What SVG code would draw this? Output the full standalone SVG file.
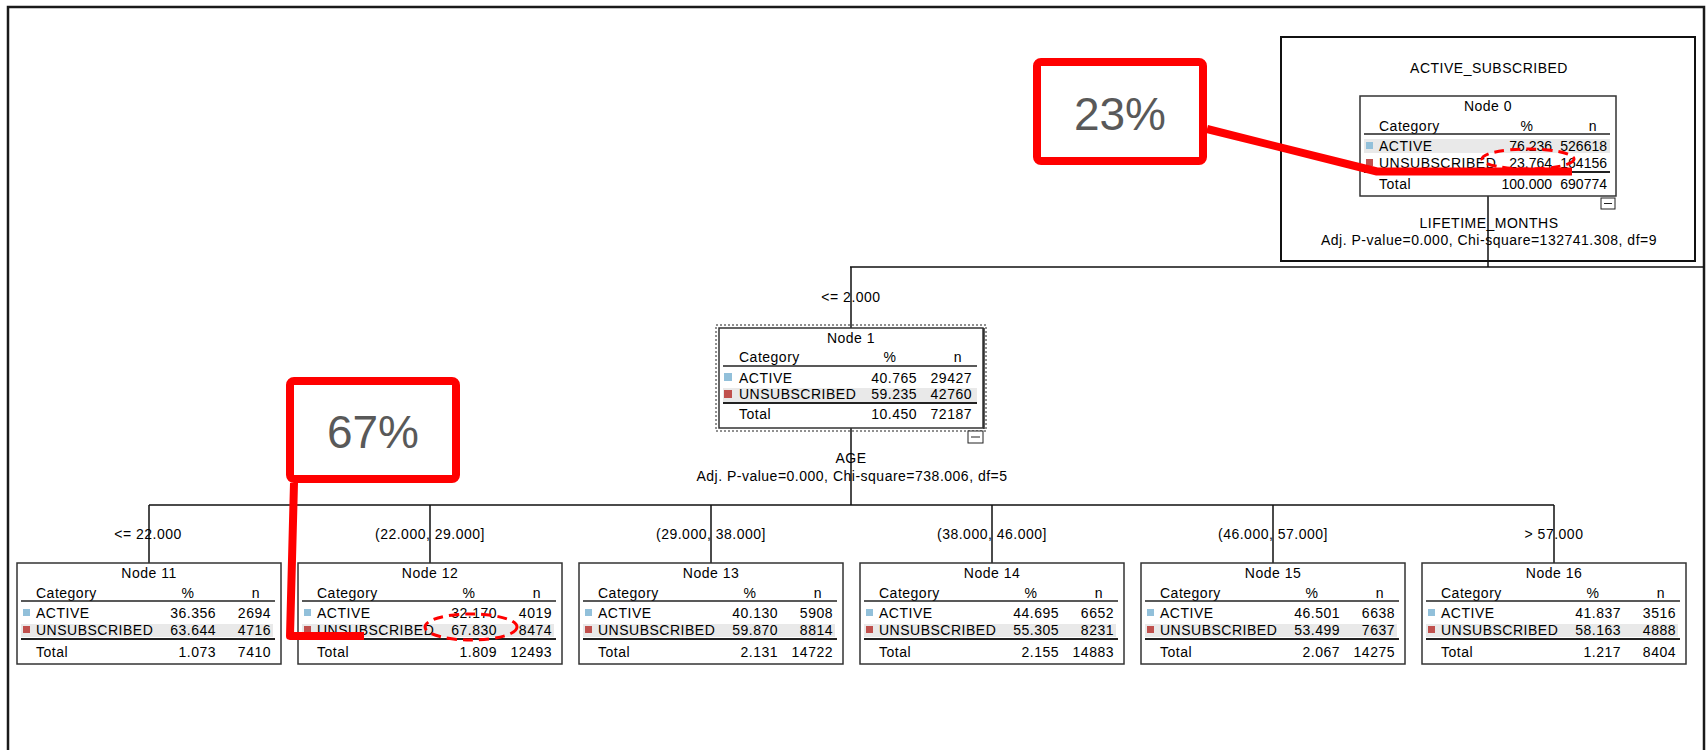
<svg xmlns="http://www.w3.org/2000/svg" width="1708" height="750" viewBox="0 0 1708 750">
<style>
text{font-family:"Liberation Sans",Arial,sans-serif;font-size:14px;fill:#000;letter-spacing:0.5px}
.m{text-anchor:middle}
.e{text-anchor:end}
.num{letter-spacing:0}
.box{fill:#fff;stroke:#333;stroke-width:1.5}
.rule{stroke:#222;stroke-width:1.5}
.rule2{stroke:#222;stroke-width:2.2}
.hl{fill:#e9e9e9}
.sa{fill:#92c0da}
.su{fill:#c0504d}
.conn{fill:none;stroke:#111;stroke-width:1.5}
.red{fill:none;stroke:#ff0000;stroke-width:8;stroke-linejoin:round}
.redd{fill:none;stroke:#ff0000;stroke-width:3;stroke-dasharray:10 6}
.call{font-size:46px;fill:#595959;letter-spacing:0}
</style>
<rect width="1708" height="750" fill="#fff"/>
<path d="M8 750 V7 H1704 V750" fill="none" stroke="#1a1a1a" stroke-width="2.5"/>
<rect x="1281" y="37" width="414" height="224" fill="none" stroke="#111" stroke-width="2"/>
<text class="m" x="1489" y="73">ACTIVE_SUBSCRIBED</text>

<g id="connectors">
<path class="conn" d="M1488 196 V267 M850 267 H1704 M851 267 V328 M851 428 V505 M149 505 H1554 M149 505 V563 M430 505 V563 M711 505 V563 M992 505 V563 M1273 505 V563 M1554 505 V563"/>
<text class="m" x="1489" y="228">LIFETIME_MONTHS</text>
<text class="m" x="1489" y="245">Adj. P-value=0.000, Chi-square=132741.308, df=9</text>
<text class="m" x="851" y="302">&lt;= 2.000</text>
<text class="m" x="851" y="463">AGE</text>
<text class="m" x="852" y="481">Adj. P-value=0.000, Chi-square=738.006, df=5</text>
<text class="m" x="148" y="539">&lt;= 22.000</text>
<text class="m" x="430" y="539">(22.000, 29.000]</text>
<text class="m" x="711" y="539">(29.000, 38.000]</text>
<text class="m" x="992" y="539">(38.000, 46.000]</text>
<text class="m" x="1273" y="539">(46.000, 57.000]</text>
<text class="m" x="1554" y="539">&gt; 57.000</text>
</g>

<g id="node0" transform="translate(1360,96)">
<rect class="box" width="256" height="100"/>
<rect class="hl" x="4" y="43" width="246" height="14"/>
<text class="m" x="128" y="15">Node 0</text>
<text x="19" y="35">Category</text>
<text class="m" x="167" y="35">%</text>
<text class="m" x="233" y="35">n</text>
<line class="rule" x1="4" y1="38" x2="250" y2="38"/>
<rect class="sa" x="6" y="46" width="7" height="7"/>
<text x="19" y="55">ACTIVE</text>
<text class="e num" x="192" y="55">76.236</text>
<text class="e num" x="247" y="55">526618</text>
<rect class="su" x="6" y="63" width="7" height="7"/>
<text x="19" y="72">UNSUBSCRIBED</text>
<text class="e num" x="192" y="72">23.764</text>
<text class="e num" x="247" y="72">164156</text>
<line class="rule2" x1="4" y1="76" x2="250" y2="76"/>
<text x="19" y="93">Total</text>
<text class="e num" x="192" y="93">100.000</text>
<text class="e num" x="247" y="93">690774</text>
<rect x="241" y="102" width="14" height="11" fill="#fff" stroke="#222" stroke-width="1"/>
<line x1="244" y1="107.5" x2="252" y2="107.5" stroke="#222" stroke-width="1"/>
</g>

<g id="node1" transform="translate(719,328)">
<rect x="-3" y="-3" width="270" height="106" fill="none" stroke="#222" stroke-width="1" stroke-dasharray="2 2"/>
<rect class="box" width="264" height="100"/>
<line x1="265" y1="0" x2="265" y2="101" stroke="#222" stroke-width="1.5"/>
<rect class="hl" x="4" y="60" width="254" height="14"/>
<text class="m" x="132" y="15">Node 1</text>
<text x="20" y="34">Category</text>
<text class="m" x="171" y="34">%</text>
<text class="m" x="239" y="34">n</text>
<line class="rule" x1="4" y1="38" x2="258" y2="38"/>
<rect class="sa" x="5" y="45" width="8" height="8"/>
<text x="20" y="55">ACTIVE</text>
<text class="e" x="198" y="55">40.765</text>
<text class="e" x="253" y="55">29427</text>
<rect class="su" x="5" y="62" width="8" height="8"/>
<text x="20" y="71">UNSUBSCRIBED</text>
<text class="e" x="198" y="71">59.235</text>
<text class="e" x="253" y="71">42760</text>
<line class="rule2" x1="4" y1="75" x2="258" y2="75"/>
<text x="20" y="91">Total</text>
<text class="e" x="198" y="91">10.450</text>
<text class="e" x="253" y="91">72187</text>
<rect x="249" y="103" width="15" height="12" fill="#fff" stroke="#222" stroke-width="1"/>
<line x1="252" y1="109" x2="261" y2="109" stroke="#222" stroke-width="1"/>
</g>

<g id="node11" transform="translate(17,563)">
<rect class="box" width="264" height="101"/>
<rect class="hl" x="4" y="61" width="252" height="13"/>
<text class="m" x="132" y="15">Node 11</text>
<text x="19" y="35">Category</text>
<text class="m" x="171" y="35">%</text>
<text class="m" x="239" y="35">n</text>
<line class="rule" x1="4" y1="38" x2="258" y2="38"/>
<rect class="sa" x="6" y="46" width="7" height="7"/>
<text x="19" y="55">ACTIVE</text>
<text class="e" x="199" y="55">36.356</text>
<text class="e" x="254" y="55">2694</text>
<rect class="su" x="6" y="63" width="7" height="7"/>
<text x="19" y="72">UNSUBSCRIBED</text>
<text class="e" x="199" y="72">63.644</text>
<text class="e" x="254" y="72">4716</text>
<line class="rule2" x1="4" y1="76" x2="258" y2="76"/>
<text x="19" y="94">Total</text>
<text class="e" x="199" y="94">1.073</text>
<text class="e" x="254" y="94">7410</text>
</g>

<g id="node12" transform="translate(298,563)">
<rect class="box" width="264" height="101"/>
<rect class="hl" x="4" y="61" width="252" height="13"/>
<text class="m" x="132" y="15">Node 12</text>
<text x="19" y="35">Category</text>
<text class="m" x="171" y="35">%</text>
<text class="m" x="239" y="35">n</text>
<line class="rule" x1="4" y1="38" x2="258" y2="38"/>
<rect class="sa" x="6" y="46" width="7" height="7"/>
<text x="19" y="55">ACTIVE</text>
<text class="e" x="199" y="55">32.170</text>
<text class="e" x="254" y="55">4019</text>
<rect class="su" x="6" y="63" width="7" height="7"/>
<text x="19" y="72">UNSUBSCRIBED</text>
<text class="e" x="199" y="72">67.830</text>
<text class="e" x="254" y="72">8474</text>
<line class="rule2" x1="4" y1="76" x2="258" y2="76"/>
<text x="19" y="94">Total</text>
<text class="e" x="199" y="94">1.809</text>
<text class="e" x="254" y="94">12493</text>
</g>

<g id="node13" transform="translate(579,563)">
<rect class="box" width="264" height="101"/>
<rect class="hl" x="4" y="61" width="252" height="13"/>
<text class="m" x="132" y="15">Node 13</text>
<text x="19" y="35">Category</text>
<text class="m" x="171" y="35">%</text>
<text class="m" x="239" y="35">n</text>
<line class="rule" x1="4" y1="38" x2="258" y2="38"/>
<rect class="sa" x="6" y="46" width="7" height="7"/>
<text x="19" y="55">ACTIVE</text>
<text class="e" x="199" y="55">40.130</text>
<text class="e" x="254" y="55">5908</text>
<rect class="su" x="6" y="63" width="7" height="7"/>
<text x="19" y="72">UNSUBSCRIBED</text>
<text class="e" x="199" y="72">59.870</text>
<text class="e" x="254" y="72">8814</text>
<line class="rule2" x1="4" y1="76" x2="258" y2="76"/>
<text x="19" y="94">Total</text>
<text class="e" x="199" y="94">2.131</text>
<text class="e" x="254" y="94">14722</text>
</g>

<g id="node14" transform="translate(860,563)">
<rect class="box" width="264" height="101"/>
<rect class="hl" x="4" y="61" width="252" height="13"/>
<text class="m" x="132" y="15">Node 14</text>
<text x="19" y="35">Category</text>
<text class="m" x="171" y="35">%</text>
<text class="m" x="239" y="35">n</text>
<line class="rule" x1="4" y1="38" x2="258" y2="38"/>
<rect class="sa" x="6" y="46" width="7" height="7"/>
<text x="19" y="55">ACTIVE</text>
<text class="e" x="199" y="55">44.695</text>
<text class="e" x="254" y="55">6652</text>
<rect class="su" x="6" y="63" width="7" height="7"/>
<text x="19" y="72">UNSUBSCRIBED</text>
<text class="e" x="199" y="72">55.305</text>
<text class="e" x="254" y="72">8231</text>
<line class="rule2" x1="4" y1="76" x2="258" y2="76"/>
<text x="19" y="94">Total</text>
<text class="e" x="199" y="94">2.155</text>
<text class="e" x="254" y="94">14883</text>
</g>

<g id="node15" transform="translate(1141,563)">
<rect class="box" width="264" height="101"/>
<rect class="hl" x="4" y="61" width="252" height="13"/>
<text class="m" x="132" y="15">Node 15</text>
<text x="19" y="35">Category</text>
<text class="m" x="171" y="35">%</text>
<text class="m" x="239" y="35">n</text>
<line class="rule" x1="4" y1="38" x2="258" y2="38"/>
<rect class="sa" x="6" y="46" width="7" height="7"/>
<text x="19" y="55">ACTIVE</text>
<text class="e" x="199" y="55">46.501</text>
<text class="e" x="254" y="55">6638</text>
<rect class="su" x="6" y="63" width="7" height="7"/>
<text x="19" y="72">UNSUBSCRIBED</text>
<text class="e" x="199" y="72">53.499</text>
<text class="e" x="254" y="72">7637</text>
<line class="rule2" x1="4" y1="76" x2="258" y2="76"/>
<text x="19" y="94">Total</text>
<text class="e" x="199" y="94">2.067</text>
<text class="e" x="254" y="94">14275</text>
</g>

<g id="node16" transform="translate(1422,563)">
<rect class="box" width="264" height="101"/>
<rect class="hl" x="4" y="61" width="252" height="13"/>
<text class="m" x="132" y="15">Node 16</text>
<text x="19" y="35">Category</text>
<text class="m" x="171" y="35">%</text>
<text class="m" x="239" y="35">n</text>
<line class="rule" x1="4" y1="38" x2="258" y2="38"/>
<rect class="sa" x="6" y="46" width="7" height="7"/>
<text x="19" y="55">ACTIVE</text>
<text class="e" x="199" y="55">41.837</text>
<text class="e" x="254" y="55">3516</text>
<rect class="su" x="6" y="63" width="7" height="7"/>
<text x="19" y="72">UNSUBSCRIBED</text>
<text class="e" x="199" y="72">58.163</text>
<text class="e" x="254" y="72">4888</text>
<line class="rule2" x1="4" y1="76" x2="258" y2="76"/>
<text x="19" y="94">Total</text>
<text class="e" x="199" y="94">1.217</text>
<text class="e" x="254" y="94">8404</text>
</g>

<g id="callout23">
<ellipse class="redd" cx="1528" cy="159" rx="46" ry="10"/>
<path class="red" d="M1207 129 L1377 171.5 L1572 171.5"/>
<rect class="red" x="1037" y="62" width="166" height="99" rx="4"/>
<text class="m call" x="1120" y="130">23%</text>
</g>

<g id="callout67">
<ellipse class="redd" cx="471" cy="627" rx="46" ry="13"/>
<path class="red" d="M294 483 L290 636 L364 636"/>
<rect class="red" x="290" y="381" width="166" height="98" rx="4"/>
<text class="m call" x="373" y="448">67%</text>
</g>
</svg>
